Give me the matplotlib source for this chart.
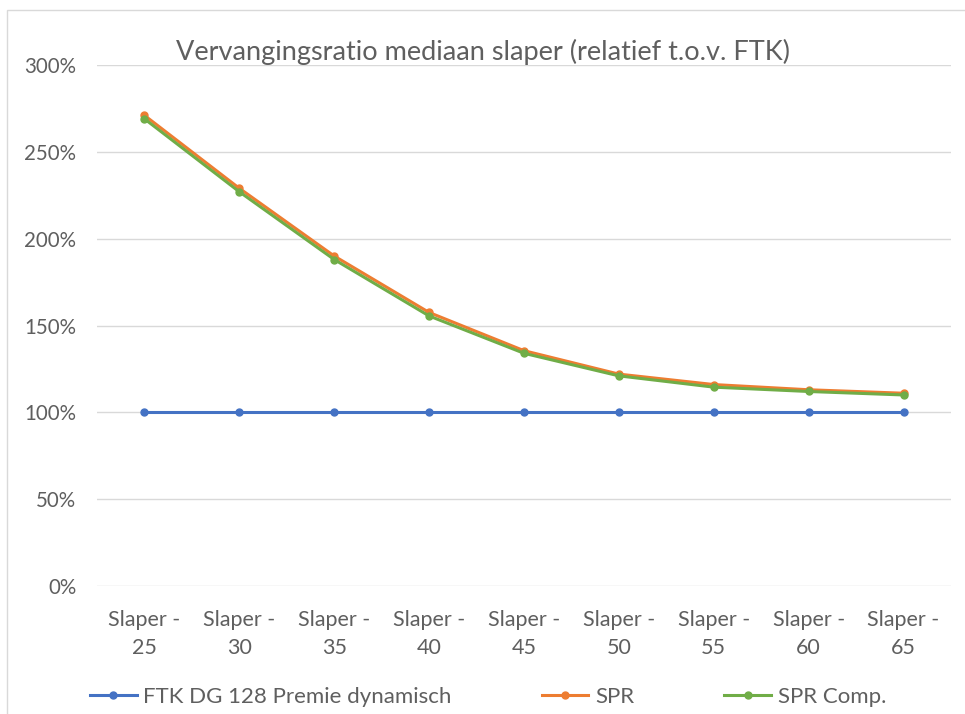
import matplotlib.pyplot as plt
from matplotlib.patches import Rectangle
from matplotlib.ticker import FuncFormatter

plt.rcParams["font.family"] = ["Lato", "DejaVu Sans"]

# --- Data ---
categories = ["Slaper -\n25", "Slaper -\n30", "Slaper -\n35", "Slaper -\n40", "Slaper -\n45",
              "Slaper -\n50", "Slaper -\n55", "Slaper -\n60", "Slaper -\n65"]
ftk = [1.00, 1.00, 1.00, 1.00, 1.00, 1.00, 1.00, 1.00, 1.00]
spr = [2.71, 2.29, 1.90, 1.575, 1.355, 1.22, 1.16, 1.13, 1.11]
spr_comp = [2.69, 2.27, 1.88, 1.555, 1.34, 1.21, 1.145, 1.12, 1.10]
labels = ["FTK DG 128 Premie dynamisch", "SPR", "SPR Comp."]

COLORS = ["#4472C4", "#ED7D31", "#70AD47"]
TEXT = "#5f5f5f"

fig = plt.figure(figsize=(9.65, 7.14), dpi=100)
ax = fig.add_axes([97 / 965, 1 - 586 / 714, (951 - 97) / 965, (586 - 65) / 714])

# chart area border (only top and left are visible in the reference)
fig.patches.append(Rectangle((7 / 965, -0.1), 1.2, (714 - 10) / 714 + 0.1,
                             transform=fig.transFigure, fill=False,
                             edgecolor="#D9D9D9", linewidth=1))

x = list(range(len(categories)))
for series, color, label in zip([ftk, spr, spr_comp], COLORS, labels):
    ax.plot(x, series, color=color, linewidth=2.2, marker="o", markersize=5,
            label=label, zorder=3)

ax.set_xlim(-0.5, len(categories) - 0.5)
ax.set_ylim(0, 3.0)
ax.set_yticks([0, 0.5, 1.0, 1.5, 2.0, 2.5, 3.0])
ax.yaxis.set_major_formatter(FuncFormatter(lambda v, _: f"{v * 100:.0f}%"))
ax.set_xticks(x)
ax.set_xticklabels(categories, linespacing=1.55)

ax.grid(axis="y", color="#D9D9D9", linewidth=1)
ax.set_axisbelow(True)
for s in ax.spines.values():
    s.set_visible(False)
ax.tick_params(length=0, colors=TEXT)
ax.tick_params(axis="y", pad=15, labelsize=14.8)
ax.tick_params(axis="x", pad=17, labelsize=15.5)

fig.text(0.5, 1 - 60 / 714, "Vervangingsratio mediaan slaper (relatief t.o.v. FTK)",
         ha="center", va="baseline", fontsize=19.5, color=TEXT)

fig.legend(loc="center left", bbox_to_anchor=(90 / 965, 1 - 697 / 714), ncol=3,
           frameon=False, fontsize=16, labelcolor=TEXT, columnspacing=4.05,
           handlelength=2.1, handletextpad=0.3, borderaxespad=0, borderpad=0)

plt.savefig("out.png", dpi=100)
plt.close()
